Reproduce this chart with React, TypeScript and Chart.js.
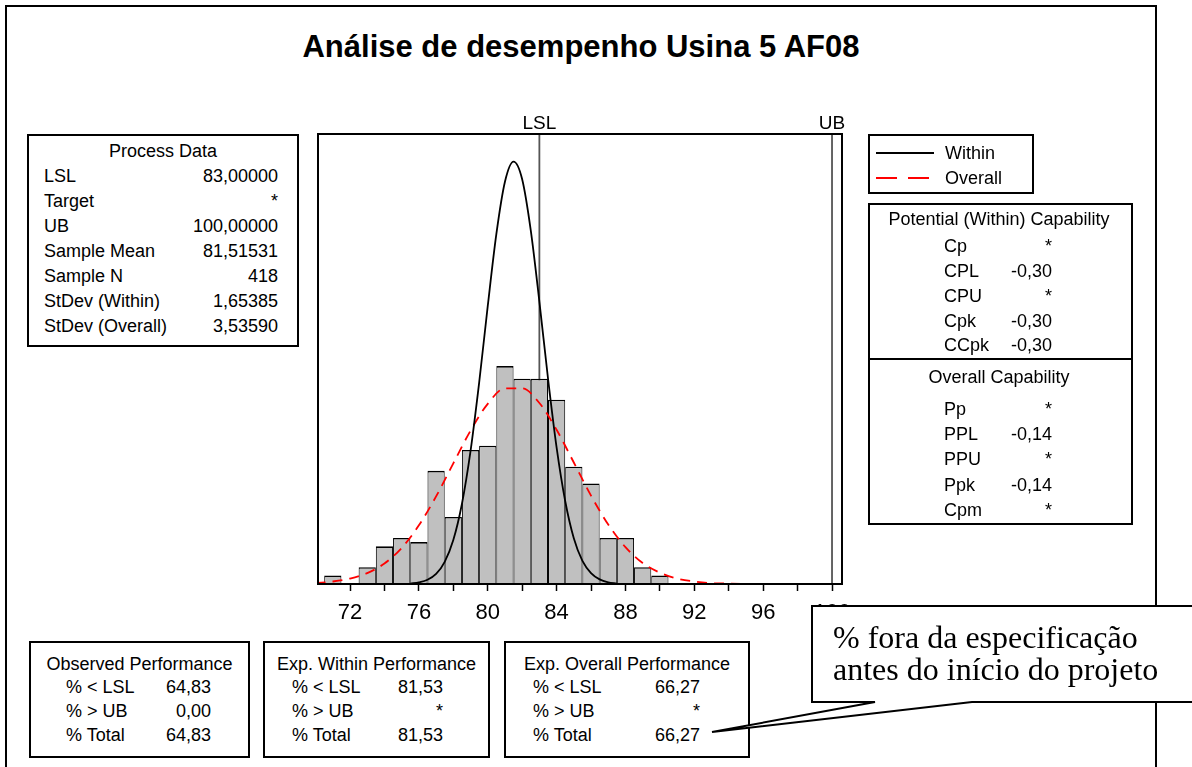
import React, { useEffect, useRef } from "react";
import { Chart, registerables } from "chart.js";
Chart.register(...registerables);

// ---------- data ----------
const binCenters = [71, 72, 73, 74, 75, 76, 77, 78, 79, 80, 81, 82, 83, 84, 85, 86, 87, 88, 89, 90];
const binCounts = [2, 0, 4, 9, 11, 10, 27, 16, 32, 33, 52, 49, 49, 44, 28, 24, 11, 11, 4, 2];

const withinX = [75.5, 76, 76.5, 77, 77.5, 78, 78.5, 79, 79.5, 80, 80.5, 81, 81.5, 82, 82.5, 83, 83.5, 84, 84.5, 85, 85.5, 86, 86.5, 87, 87.5];
const withinY = [0.1, 0.4, 1.0, 2.4, 5.3, 10.5, 19.1, 31.7, 48.0, 66.3, 83.5, 96.0, 100.8, 96.6, 84.4, 67.4, 49.1, 32.6, 19.8, 10.9, 5.5, 2.6, 1.1, 0.4, 0.1];

const overallX = [70, 71, 72, 73, 74, 75, 76, 77, 78, 79, 80, 81, 82, 83, 84, 85, 86, 87, 88, 89, 90, 91, 92, 93, 94, 95];
const overallY = [0.2, 0.6, 1.3, 2.6, 4.9, 8.6, 14.0, 20.9, 28.8, 36.6, 43.0, 46.7, 46.7, 43.2, 36.8, 29.0, 21.1, 14.2, 8.8, 5.0, 2.7, 1.3, 0.6, 0.2, 0.1, 0.0];

const xTickLabels = [72, 76, 80, 84, 88, 92, 96, 100];
const LSL = 83;
const UB = 100;

const title = "Análise de desempenho Usina 5 AF08";
const processLabels = ["LSL", "Target", "UB", "Sample Mean", "Sample N", "StDev (Within)", "StDev (Overall)"];
const processValues = ["83,00000", "*", "100,00000", "81,51531", "418", "1,65385", "3,53590"];
const potentialLabels = ["Cp", "CPL", "CPU", "Cpk", "CCpk"];
const potentialValues = ["*", "-0,30", "*", "-0,30", "-0,30"];
const overallCapLabels = ["Pp", "PPL", "PPU", "Ppk", "Cpm"];
const overallCapValues = ["*", "-0,14", "*", "-0,14", "*"];
const perfLabels = ["% < LSL", "% > UB", "% Total"];
const observedValues = ["64,83", "0,00", "64,83"];
const expWithinValues = ["81,53", "*", "81,53"];
const expOverallValues = ["66,27", "*", "66,27"];
const calloutLines = ["% fora da especificação", "antes do início do projeto"];

// ---------- styling ----------
const SANS = '"Liberation Sans", Arial, sans-serif';
const SERIF = '"Liberation Serif", "Times New Roman", serif';

function T(props: { x: number; y: number; align?: "left" | "right" | "center"; size?: number; family?: string; weight?: number | string; children: any }) {
  const size = props.size ?? 18;
  const lh = Math.round(size * 1.3);
  const align = props.align ?? "left";
  const style: any = {
    position: "absolute",
    top: props.y - lh / 2,
    lineHeight: lh + "px",
    height: lh,
    fontSize: size,
    fontFamily: props.family ?? SANS,
    fontWeight: props.weight ?? "normal",
    whiteSpace: "pre",
    color: "#000",
  };
  if (align === "left") style.left = props.x;
  else if (align === "right") { style.left = props.x - 500; style.width = 500; style.textAlign = "right"; }
  else { style.left = props.x - 400; style.width = 800; style.textAlign = "center"; }
  return <div style={style}>{props.children}</div>;
}

function Box(p: { l: number; t: number; r: number; b: number; w?: number }) {
  return (
    <div style={{ position: "absolute", left: p.l, top: p.t, width: p.r - p.l, height: p.b - p.t, border: `${p.w ?? 2}px solid #000`, boxSizing: "border-box" }} />
  );
}

// chart placement on the page
const CANVAS_L = 290, CANVAS_T = 100, CANVAS_W = 600, CANVAS_H = 540;
const AREA_L = 318, AREA_T = 134, AREA_R = 842, AREA_B = 584;

const specPlugin = {
  id: "specLines",
  beforeDatasetsDraw(chart: any) {
    const { ctx, chartArea, scales } = chart;
    ctx.save();
    ctx.strokeStyle = "#555";
    ctx.lineWidth = 1.8;
    [LSL, UB].forEach((v) => {
      const px = scales.x.getPixelForValue(v);
      ctx.beginPath();
      ctx.moveTo(px, chartArea.top);
      ctx.lineTo(px, chartArea.bottom);
      ctx.stroke();
    });
    ctx.restore();
  },
  afterDraw(chart: any) {
    const { ctx, chartArea, scales } = chart;
    ctx.save();
    ctx.strokeStyle = "#000";
    ctx.lineWidth = 2;
    ctx.strokeRect(chartArea.left, chartArea.top, chartArea.right - chartArea.left, chartArea.bottom - chartArea.top);
    ctx.fillStyle = "#000";
    ctx.font = `19px ${SANS}`;
    ctx.textAlign = "center";
    ctx.textBaseline = "alphabetic";
    ctx.fillText("LSL", scales.x.getPixelForValue(LSL), chartArea.top - 5);
    ctx.fillText("UB", scales.x.getPixelForValue(UB), chartArea.top - 5);
    ctx.restore();
  },
};

function Histogram() {
  const ref = useRef<HTMLCanvasElement>(null);
  useEffect(() => {
    if (!ref.current) return;
    const chart = new Chart(ref.current, {
      type: "bar",
      data: {
        datasets: [
          {
            type: "line",
            label: "Within",
            data: withinX.map((x, i) => ({ x, y: withinY[i] })),
            borderColor: "#000",
            borderWidth: 1.8,
            pointRadius: 0,
            cubicInterpolationMode: "monotone",
            order: 0,
          } as any,
          {
            type: "line",
            label: "Overall",
            data: overallX.map((x, i) => ({ x, y: overallY[i] })),
            borderColor: "#ff0000",
            borderWidth: 1.8,
            borderDash: [10, 7],
            pointRadius: 0,
            cubicInterpolationMode: "monotone",
            order: 0,
          } as any,
          {
            type: "bar",
            label: "Counts",
            data: binCenters.map((x, i) => ({ x, y: binCounts[i] })),
            backgroundColor: "#c0c0c0",
            borderColor: "#000",
            borderWidth: { top: 1.6, left: 1, right: 1, bottom: 0 },
            borderSkipped: false,
            barPercentage: 1,
            categoryPercentage: 1,
            inflateAmount: 0,
            order: 1,
          } as any,
        ],
      },
      options: {
        animation: false,
        responsive: false,
        maintainAspectRatio: false,
        events: [],
        layout: {
          padding: {
            left: AREA_L - CANVAS_L,
            top: AREA_T - CANVAS_T,
            right: CANVAS_L + CANVAS_W - AREA_R,
            bottom: 0,
          },
        },
        plugins: { legend: { display: false }, tooltip: { enabled: false } },
        scales: {
          x: {
            type: "linear",
            min: 70.14,
            max: 100.58,
            offset: false,
            border: { display: false },
            grid: {
              display: true,
              offset: false,
              drawOnChartArea: false,
              drawTicks: true,
              tickLength: 7,
              tickWidth: 1.5,
              tickColor: "#000",
              color: "#000",
            },
            ticks: {
              stepSize: 2,
              includeBounds: false,
              autoSkip: false,
              maxRotation: 0,
              padding: 9,
              color: "#000",
              font: { family: SANS, size: 22 },
              callback: (v: any) => (xTickLabels.includes(Number(v)) ? String(v) : ""),
            },
            afterFit: (s: any) => {
              s.height = CANVAS_H - (AREA_B - CANVAS_T);
            },
          } as any,
          y: { display: false, min: 0, max: 107.4 },
        },
      },
      plugins: [specPlugin],
    });
    return () => chart.destroy();
  }, []);
  return (
    <canvas
      ref={ref}
      width={CANVAS_W}
      height={CANVAS_H}
      style={{ position: "absolute", left: CANVAS_L, top: CANVAS_T, width: CANVAS_W, height: CANVAS_H, display: "block" }}
    />
  );
}

function PerfBox(p: { l: number; r: number; title: string; labelX: number; valueX: number; values: string[] }) {
  const rowsY = [687, 711, 735];
  return (
    <>
      <Box l={p.l} t={641} r={p.r} b={758} />
      <T x={(p.l + p.r) / 2} y={664} align="center">{p.title}</T>
      {perfLabels.map((lab, i) => (
        <T key={"l" + i} x={p.labelX} y={rowsY[i]}>{lab}</T>
      ))}
      {p.values.map((v, i) => (
        <T key={"v" + i} x={p.valueX} y={rowsY[i]} align="right">{v}</T>
      ))}
    </>
  );
}

export default function App() {
  const processRowsY = [176, 201, 226, 251, 276, 301, 326];
  const potentialRowsY = [246, 271, 296, 321, 345];
  const overallRowsY = [409, 434, 459, 485, 510];
  return (
    <div style={{ position: "absolute", left: 0, top: 0, width: 1192, height: 767, overflow: "hidden", background: "#fff" }}>
      {/* outer frame */}
      <div style={{ position: "absolute", left: 5, top: 5, width: 1152, height: 820, border: "2px solid #000", boxSizing: "border-box" }} />

      <T x={581} y={47} align="center" size={31} weight="bold">{title}</T>

      {/* Process data */}
      <Box l={27} t={134} r={299} b={347} />
      <T x={163} y={151} align="center">Process Data</T>
      {processLabels.map((s, i) => (
        <T key={"pl" + i} x={44} y={processRowsY[i]}>{s}</T>
      ))}
      {processValues.map((s, i) => (
        <T key={"pv" + i} x={278} y={processRowsY[i]} align="right">{s}</T>
      ))}

      <Histogram />

      {/* legend */}
      <Box l={868} t={134} r={1034} b={194} />
      <div style={{ position: "absolute", left: 876, top: 152, width: 58, borderTop: "2px solid #000" }} />
      <T x={945} y={153}>Within</T>
      <div style={{ position: "absolute", left: 876, top: 177, width: 21, borderTop: "2px solid #ff0000" }} />
      <div style={{ position: "absolute", left: 908, top: 177, width: 21, borderTop: "2px solid #ff0000" }} />
      <T x={945} y={178}>Overall</T>

      {/* capability */}
      <Box l={868} t={203} r={1133} b={525} />
      <div style={{ position: "absolute", left: 868, top: 358, width: 265, borderTop: "2px solid #000" }} />
      <T x={999} y={219} align="center">Potential (Within) Capability</T>
      {potentialLabels.map((s, i) => (
        <T key={"cl" + i} x={944} y={potentialRowsY[i]}>{s}</T>
      ))}
      {potentialValues.map((s, i) => (
        <T key={"cv" + i} x={1052} y={potentialRowsY[i]} align="right">{s}</T>
      ))}
      <T x={999} y={377} align="center">Overall Capability</T>
      {overallCapLabels.map((s, i) => (
        <T key={"ol" + i} x={944} y={overallRowsY[i]}>{s}</T>
      ))}
      {overallCapValues.map((s, i) => (
        <T key={"ov" + i} x={1052} y={overallRowsY[i]} align="right">{s}</T>
      ))}

      {/* performance boxes */}
      <PerfBox l={29} r={250} title="Observed Performance" labelX={66} valueX={211} values={observedValues} />
      <PerfBox l={263} r={490} title="Exp. Within Performance" labelX={292} valueX={443} values={expWithinValues} />
      <PerfBox l={504} r={750} title="Exp. Overall Performance" labelX={533} valueX={700} values={expOverallValues} />

      {/* callout */}
      <svg width={1192} height={767} style={{ position: "absolute", left: 0, top: 0, pointerEvents: "none" }}>
        <polygon
          points="812,606 1200,606 1200,702 972,702 712,732 875,702 812,702"
          fill="#fff"
          stroke="#000"
          strokeWidth={2}
          strokeLinejoin="miter"
        />
      </svg>
      <T x={833} y={637} size={32} family={SERIF}>{calloutLines[0]}</T>
      <T x={833} y={669} size={32} family={SERIF}>{calloutLines[1]}</T>
    </div>
  );
}
